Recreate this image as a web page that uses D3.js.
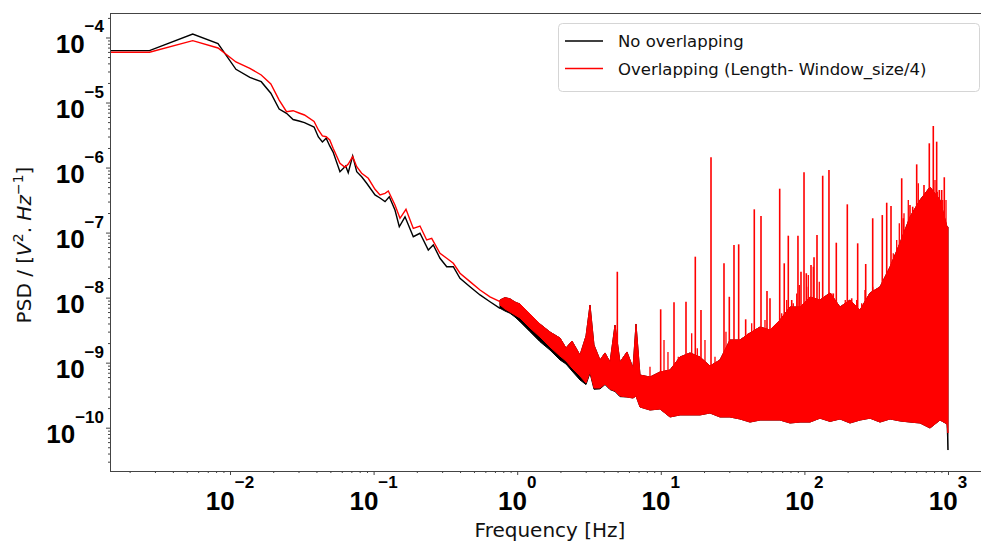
<!DOCTYPE html>
<html>
<head>
<meta charset="utf-8">
<script src="https://cdn.jsdelivr.net/npm/d3@7"></script>
<style>
  body { margin: 0; background: #fff; }
  svg { display: block; }
</style>
</head>
<body>
<div id="chart"></div>
<script>
// ---- data ----
// low-frequency part (plain lines)
const lowFreqBlack = [0.00146, 0.00275, 0.0055, 0.00825, 0.011, 0.01375, 0.0165, 0.01925, 0.022, 0.02475,
    0.0275, 0.03025, 0.033, 0.0385, 0.04125, 0.044, 0.04675, 0.0495, 0.05225, 0.0583,
    0.0639, 0.0666, 0.0715, 0.0763, 0.0826, 0.0895, 0.1023, 0.1108, 0.1201, 0.1286,
    0.1409, 0.151, 0.1655, 0.189, 0.2104, 0.2404, 0.2604, 0.29, 0.323, 0.359,
    0.3996, 0.469, 0.551, 0.6464, 0.759];
const lowPsdBlack = [6.27e-5, 6.27e-5, 1.13e-4, 8.09e-5, 3.24e-5, 2.44e-5, 2.09e-5, 1.39e-5, 7.95e-6, 6.83e-6,
    5.48e-6, 5.2e-6, 4.9e-6, 4.2e-6, 2.95e-6, 2.47e-6, 2.82e-6, 2.15e-6, 1.73e-6, 8.63e-7,
    1.06e-6, 8.34e-7, 1.51e-6, 8.63e-7, 7.23e-7, 5.73e-7, 3.79e-7, 3.4e-7, 2.99e-7, 3.56e-7,
    2.22e-7, 1.23e-7, 1.75e-7, 8.65e-8, 9.75e-8, 5.4e-8, 6.44e-8, 4.03e-8, 2.99e-8, 2.99e-8,
    1.98e-8, 1.47e-8, 1.1e-8, 8.65e-9, 6.85e-9];

const lowFreqRed = [0.00146, 0.00275, 0.0055, 0.00825, 0.011, 0.01375, 0.0165, 0.01925, 0.022, 0.02475,
    0.0275, 0.03025, 0.033, 0.0385, 0.04125, 0.044, 0.04675, 0.0495, 0.05225, 0.0583,
    0.0632, 0.0666, 0.0715, 0.0763, 0.0826, 0.0918, 0.1023, 0.1108, 0.1201, 0.1266,
    0.1409, 0.1527, 0.1681, 0.189, 0.2104, 0.2343, 0.2539, 0.29, 0.323, 0.359,
    0.3996, 0.469, 0.551, 0.6464, 0.759];
const lowPsdRed = [5.92e-5, 5.92e-5, 8.93e-5, 6.9e-5, 4.2e-5, 3.36e-5, 2.65e-5, 1.93e-5, 1.09e-5, 7.23e-6,
    7.49e-6, 6.9e-6, 6.43e-6, 5.11e-6, 3.78e-6, 3.06e-6, 2.98e-6, 2.65e-6, 1.98e-6, 1.16e-6,
    1.01e-6, 1.13e-6, 1.47e-6, 1.03e-6, 8.17e-7, 6.84e-7, 4.63e-7, 3.79e-7, 4.02e-7, 4.36e-7,
    2.66e-7, 1.66e-7, 2.28e-7, 1.16e-7, 1.26e-7, 7.69e-8, 8.17e-8, 4.81e-8, 4.03e-8, 3.37e-8,
    2.37e-8, 1.76e-8, 1.31e-8, 1.03e-8, 8.65e-9];

// noisy part above ~0.75 Hz: envelope of the dense trace
const bandFreq = [0.759, 0.822, 0.891, 0.965, 1.046, 1.228, 1.441, 1.692, 1.987, 2.187,
    2.407, 2.737, 3.014, 3.214, 3.426, 3.773, 4.088, 4.43, 4.799, 5.2,
    5.816, 6.404, 6.721, 7.165, 8.41, 9.87, 11.59, 13.6, 15.97, 18.75,
    22.0, 25.84, 30.33, 35.6, 41.8, 49.08, 57.6, 67.6, 79.4, 93.2,
    109.4, 128.4, 150.8, 177, 207.8, 243.9, 286.3, 336.1, 394.6, 463.2,
    543.8, 638.4, 749.5, 879.6, 984, 1000];
const redHi = [9.2e-9, 1.0e-8, 9.6e-9, 8.56e-9, 7.97e-9, 5.6e-9, 3.93e-9, 2.96e-9, 2.39e-9, 1.68e-9,
    2.15e-9, 1.31e-9, 2.57e-9, 7.7e-9, 1.87e-9, 1.1e-9, 1.41e-9, 1.02e-9, 3.79e-9, 1.02e-9,
    1.46e-9, 8.27e-10, 3.93e-9, 6.45e-10, 6.01e-10, 7.18e-10, 7.7e-10, 1.22e-9, 1.41e-9, 1.22e-9,
    8.88e-10, 1.1e-9, 2.23e-9, 2.23e-9, 2.86e-9, 3.53e-9, 3.18e-9, 4.52e-9, 7.17e-9, 7.17e-9,
    1.02e-8, 9.19e-9, 1.18e-8, 7.17e-9, 9.19e-9, 6.45e-9, 1.18e-8, 1.46e-8, 2.96e-8, 6.91e-8,
    1.74e-7, 3.17e-7, 5.02e-7, 3.17e-7, 1.22e-7, 1.22e-7];
const redLo = [7.7e-9, 6.68e-9, 6.01e-9, 5.4e-9, 4.86e-9, 3.41e-9, 2.48e-9, 1.74e-9, 1.26e-9, 1.06e-9,
    8.27e-10, 6.23e-10, 4.86e-10, 7.18e-10, 4.07e-10, 4.07e-10, 4.69e-10, 3.93e-10, 3.66e-10, 3.07e-10,
    2.96e-10, 2.86e-10, 3.07e-10, 2.08e-10, 1.87e-10, 1.94e-10, 1.46e-10, 1.57e-10, 1.57e-10, 1.57e-10,
    1.68e-10, 1.46e-10, 1.46e-10, 1.36e-10, 1.22e-10, 1.31e-10, 1.31e-10, 1.31e-10, 1.18e-10, 1.22e-10,
    1.22e-10, 1.4e-10, 1.25e-10, 1.36e-10, 1.18e-10, 1.31e-10, 1.4e-10, 1.22e-10, 1.36e-10, 1.27e-10,
    1.22e-10, 1.18e-10, 9.88e-11, 1.31e-10, 1.14e-10, 8.28e-11];
const blackLo = [6.85e-9, 6.22e-9, 5.74e-9, 5.03e-9, 4.26e-9, 2.99e-9, 2.1e-9, 1.56e-9, 1.1e-9, 9.53e-10,
    7.44e-10, 5.41e-10, 4.6e-10, 6.9e-10, 3.9e-10, 3.95e-10, 4.6e-10, 3.85e-10, 3.6e-10, 3.0e-10,
    2.96e-10, 2.86e-10, 3.07e-10, 2.08e-10, 1.87e-10, 1.94e-10, 1.46e-10, 1.57e-10, 1.57e-10, 1.57e-10,
    1.68e-10, 1.46e-10, 1.46e-10, 1.36e-10, 1.22e-10, 1.31e-10, 1.31e-10, 1.31e-10, 1.18e-10, 1.22e-10,
    1.22e-10, 1.4e-10, 1.25e-10, 1.36e-10, 1.18e-10, 1.31e-10, 1.4e-10, 1.22e-10, 1.36e-10, 1.27e-10,
    1.22e-10, 1.18e-10, 9.88e-11, 1.31e-10, 1.14e-10, 4.53e-11];

// tall narrow lines sticking out of the band
const spikeFreq = [4.98, 9.98, 12.36, 14.98, 17.39, 19.05, 22.37, 27.55, 30.0, 32.34,
    34.86, 39.0, 44.78, 49.87, 54.9, 57.6, 67.3, 72.4, 77.25, 81.6,
    90.2, 94.7, 99.4, 103.1, 111.2, 116.7, 122.4, 134.1, 148.3, 159,
    166.8, 199, 213.5, 235, 267.3, 299, 336.1, 348.7, 374.3, 401,
    476, 488.4, 543.8, 567.8, 605.4, 680.6, 741, 790, 834, 869.8,
    903.9, 942.4];
const spikePsd = [2.5e-8, 6.61e-9, 8.47e-9, 8.65e-9, 4.26e-8, 6.45e-9, 1.44e-6, 3.37e-8, 1.03e-8, 6.44e-8,
    6.6e-8, 4.64e-9, 2.28e-7, 1.8e-7, 1.26e-8, 9.76e-9, 4.73e-7, 3.37e-8, 8.96e-8, 9.19e-9,
    8.96e-8, 2.5e-8, 8.45e-7, 2.37e-8, 3.17e-8, 4.17e-8, 9.18e-8, 7.49e-7, 9.17e-7, 1.16e-8,
    6.99e-8, 2.72e-7, 9.76e-9, 6.84e-8, 3.29e-8, 1.66e-7, 1.47e-8, 1.86e-7, 2.88e-7, 2.56e-7,
    6.84e-7, 1.66e-7, 2.66e-7, 2.5e-7, 1.12e-6, 5.39e-7, 2.36e-6, 4.36e-6, 2.5e-6, 4.52e-7,
    4.52e-7, 7.09e-7];
// shorter lines that make the ragged top of the band
const grassFreq = [7.09, 8.41, 10.53, 11.22, 13.24, 16.41, 17.96, 20.31, 23.85, 28.44,
    31.17, 37.97, 40.68, 42.95, 46.55, 53.16, 60.72, 63.11, 69.5, 75.3,
    83.7, 88.4, 92.2, 103.8, 106.5, 115.3, 127, 139.2, 155, 192.6,
    231.3, 250.6, 264.2, 299, 332.4, 354.3, 374.3, 416, 439.3, 458.1,
    493.9, 529.1, 589.2, 621.2, 691.5, 729.1, 812, 842.4, 918.6, 968.5];
const grassPsd = [6.45e-10, 8.66e-10, 2.23e-9, 1.46e-9, 1.23e-9, 2.83e-9, 1.66e-9, 2.23e-9, 1.23e-9, 2.99e-9,
    1.98e-9, 1.87e-9, 2.83e-9, 4.03e-9, 2.83e-9, 4.52e-9, 2.83e-9, 3.18e-9, 5.74e-9, 9.19e-9,
    8.17e-9, 1.16e-8, 1.56e-8, 1.47e-8, 2.23e-8, 2.99e-8, 1.76e-8, 1.03e-8, 1.16e-8, 9.19e-9,
    9.19e-9, 8.17e-9, 1.31e-8, 1.47e-8, 1.39e-8, 1.87e-8, 1.31e-8, 4.8e-8, 7.69e-8, 1.39e-7,
    1.98e-7, 3.17e-7, 1.75e-7, 5.73e-7, 2.22e-7, 4.52e-7, 6.44e-7, 4.25e-7, 3.17e-7, 3.17e-7];
const spikeBase = 5e-10;

const xTickExps = [-2, -1, 0, 1, 2, 3];
const yTickExps = [-10, -9, -8, -7, -6, -5, -4];
const xLimits = [0.00146, 2125];
const yLimits = [2.157e-11, 2.38e-4];
const seriesNames = ["No overlapping", "Overlapping (Length- Window_size/4)"];
const seriesColors = ["black", "red"];

// ---- drawing ----
const width = 981, height = 541;
const plotLeft = 110, plotTop = 13, plotRight = 995, plotBottom = 471;

let svg = d3.select("#chart").append("svg")
    .attr("width", width)
    .attr("height", height);

let x = d3.scaleLog().domain(xLimits).range([plotLeft, plotRight]);
let y = d3.scaleLog().domain(yLimits).range([plotBottom, plotTop]);

svg.append("clipPath").attr("id", "clip")
    .append("rect")
        .attr("x", plotLeft).attr("y", plotTop)
        .attr("width", plotRight - plotLeft).attr("height", plotBottom - plotTop);

let plot = svg.append("g").attr("clip-path", "url(#clip)");

let line = d3.line().x(d => x(d[0])).y(d => y(d[1]));
let band = d3.area().x(d => x(d[0])).y0(d => y(d[1])).y1(d => y(d[2]));

// black series: line then band
plot.append("path")
    .datum(d3.zip(lowFreqBlack, lowPsdBlack))
    .attr("d", line)
    .attr("fill", "none")
    .attr("stroke", "black")
    .attr("stroke-width", 1.4);
plot.append("path")
    .datum(d3.zip(bandFreq, blackLo, redHi))
    .attr("d", band)
    .attr("fill", "black")
    .attr("stroke", "black")
    .attr("stroke-width", 1);

// red series on top
plot.append("path")
    .datum(d3.zip(lowFreqRed, lowPsdRed))
    .attr("d", line)
    .attr("fill", "none")
    .attr("stroke", "red")
    .attr("stroke-width", 1.4);
plot.append("path")
    .datum(d3.zip(bandFreq, redLo, redHi))
    .attr("d", band)
    .attr("fill", "red")
    .attr("stroke", "red")
    .attr("stroke-width", 1);

plot.selectAll(".grass").data(d3.zip(grassFreq, grassPsd)).enter().append("line")
    .attr("class", "grass")
    .attr("x1", d => x(d[0]))
    .attr("x2", d => x(d[0]))
    .attr("y1", y(spikeBase))
    .attr("y2", d => y(d[1]))
    .attr("stroke", "red")
    .attr("stroke-width", 1.3);

plot.selectAll(".spike").data(d3.zip(spikeFreq, spikePsd)).enter().append("line")
    .attr("class", "spike")
    .attr("x1", d => x(d[0]))
    .attr("x2", d => x(d[0]))
    .attr("y1", y(spikeBase))
    .attr("y2", d => y(d[1]))
    .attr("stroke", "red")
    .attr("stroke-width", 1.6);

// axes: frame, major and minor ticks
const axisColor = "#444";
let xMajor = xTickExps.map(e => Math.pow(10, e));
let yMajor = yTickExps.map(e => Math.pow(10, e));
let isDecade = v => Math.abs(Math.log10(v) - Math.round(Math.log10(v))) < 1e-9;

let gx = svg.append("g").attr("transform", "translate(0," + plotBottom + ")");
gx.append("g").call(d3.axisBottom(x).tickValues(x.ticks().filter(v => !isDecade(v)))
    .tickSize(2).tickSizeOuter(0).tickFormat(""));
gx.append("g").call(d3.axisBottom(x).tickValues(xMajor)
    .tickSize(4).tickSizeOuter(0).tickFormat(""));

let gy = svg.append("g").attr("transform", "translate(" + plotLeft + ",0)");
gy.append("g").call(d3.axisLeft(y).tickValues(y.ticks().filter(v => !isDecade(v)))
    .tickSize(2).tickSizeOuter(0).tickFormat(""));
gy.append("g").call(d3.axisLeft(y).tickValues(yMajor)
    .tickSize(4).tickSizeOuter(0).tickFormat(""));

svg.selectAll(".domain").remove();
svg.selectAll(".tick line").attr("stroke", axisColor);

svg.append("rect")
    .attr("x", plotLeft + 0.5).attr("y", plotTop + 0.5)
    .attr("width", plotRight - plotLeft).attr("height", plotBottom - plotTop)
    .attr("fill", "none")
    .attr("stroke", axisColor)
    .attr("stroke-width", 1);

// tick labels  10^n
function expText(e) {
    return e < 0 ? "\u2212" + (-e) : String(e);
}
let tickFont = "'Liberation Sans', Arial, sans-serif";

let xLabels = svg.append("g").selectAll("text").data(xTickExps).enter().append("text")
    .attr("x", e => x(Math.pow(10, e)))
    .attr("y", 510)
    .attr("text-anchor", "middle")
    .style("font-family", tickFont)
    .style("font-weight", "bold")
    .style("font-size", "26px")
    .attr("fill", "black");
xLabels.append("tspan").text("10");
xLabels.append("tspan").attr("dy", -22).style("font-size", "17px").text(expText);

let yLabels = svg.append("g").selectAll("text").data(yTickExps).enter().append("text")
    .attr("x", 104)
    .attr("y", e => y(Math.pow(10, e)) + 15.5)
    .attr("text-anchor", "end")
    .style("font-family", tickFont)
    .style("font-weight", "bold")
    .style("font-size", "26px")
    .attr("fill", "black");
yLabels.append("tspan").text("10");
yLabels.append("tspan").attr("dy", -20.5).style("font-size", "17px").text(expText);

// axis titles
let labelFont = "'DejaVu Sans', sans-serif";
svg.append("text")
    .attr("x", 550)
    .attr("y", 537)
    .attr("text-anchor", "middle")
    .style("font-family", labelFont)
    .style("font-size", "20px")
    .attr("fill", "#111")
    .text("Frequency [Hz]");

let yTitle = svg.append("text")
    .attr("transform", "translate(31,245) rotate(-90)")
    .attr("text-anchor", "middle")
    .style("font-family", labelFont)
    .style("font-size", "20px")
    .attr("fill", "#111");
yTitle.append("tspan").text("PSD / [");
yTitle.append("tspan").style("font-style", "italic").text("V");
yTitle.append("tspan").attr("dy", -8).style("font-size", "14px").text("2");
yTitle.append("tspan").attr("dy", 8).text(". ");
yTitle.append("tspan").style("font-style", "italic").text("Hz");
yTitle.append("tspan").attr("dy", -8).style("font-size", "14px").text("\u22121");
yTitle.append("tspan").attr("dy", 8).text("]");

// legend
let legend = svg.append("g");
legend.append("rect")
    .attr("x", 558.5).attr("y", 23.5)
    .attr("width", 421).attr("height", 68)
    .attr("rx", 4)
    .attr("fill", "white")
    .attr("stroke", "#d5d5d5");

let rows = legend.selectAll(".row").data(seriesNames).enter().append("g")
    .attr("class", "row")
    .attr("transform", (d, i) => "translate(0," + (41 + i * 27.5) + ")");
rows.append("line")
    .attr("x1", 565).attr("x2", 603)
    .attr("stroke", (d, i) => seriesColors[i])
    .attr("stroke-width", 1.4);
rows.append("text")
    .attr("x", 618).attr("y", 6)
    .style("font-family", labelFont)
    .style("font-size", "16.5px")
    .attr("fill", "#111")
    .text(d => d);
</script>
</body>
</html>
